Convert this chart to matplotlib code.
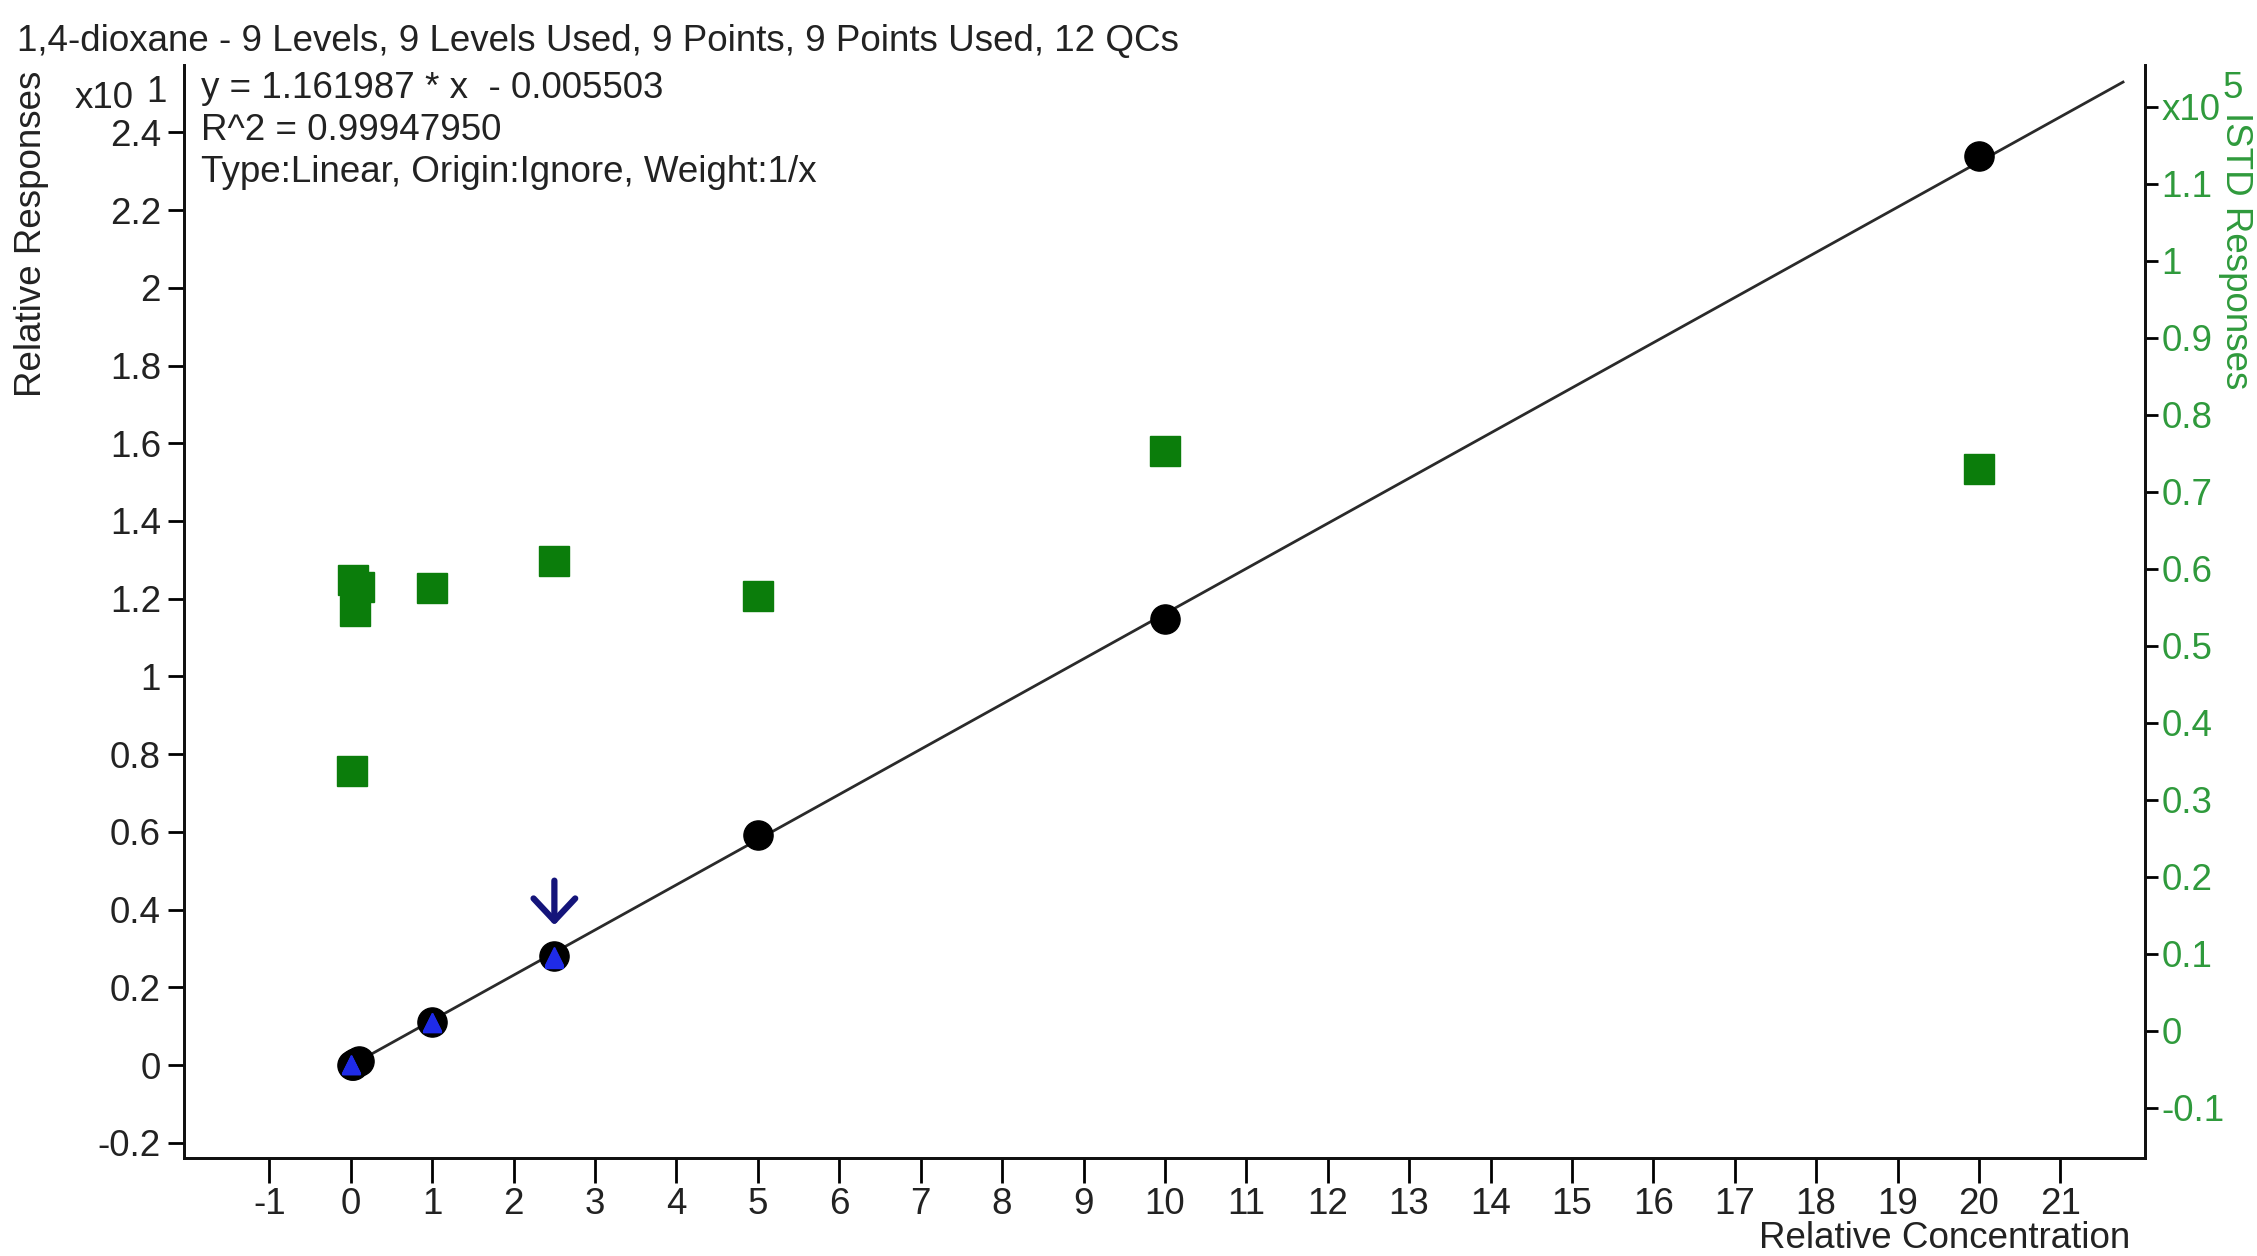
import matplotlib
matplotlib.use('Agg')
import matplotlib.pyplot as plt
from matplotlib.ticker import FixedLocator, FixedFormatter

plt.rcParams['font.family'] = ['Liberation Sans', 'DejaVu Sans']

# Data
std_conc = [0.01, 0.02, 0.05, 0.1, 1, 2.5, 5, 10, 20]
std_resp = [0.006, 0.018, 0.052, 0.112, 1.12, 2.80, 5.92, 11.47, 23.38]      # relative response
istd_resp = [0.337, 0.585, 0.545, 0.576, 0.575, 0.61, 0.565, 0.753, 0.73]   # x10^5

qc_conc = [0.0, 0.0, 0.0, 0.0, 1, 1, 1, 1, 2.5, 2.5, 2.5, 2.5]
qc_resp = [0.0, 0.01, 0.02, 0.005, 1.08, 1.10, 1.12, 1.09, 2.74, 2.78, 2.80, 2.76]

slope = 1.161987
intercept = -0.005503
fit_x = [0.01, 21.77]

flagged_conc = 2.5
flagged_arrow = (0.482, 0.353)  # tail, tip on the left axis (x10)

x_ticks = list(range(-1, 22))
left_ticks = [-0.2, 0, 0.2, 0.4, 0.6, 0.8, 1, 1.2, 1.4, 1.6, 1.8, 2, 2.2, 2.4]
right_ticks = [-0.1, 0, 0.1, 0.2, 0.3, 0.4, 0.5, 0.6, 0.7, 0.8, 0.9, 1, 1.1, 1.2]
right_labels = ['-0.1', '0', '0.1', '0.2', '0.3', '0.4', '0.5', '0.6', '0.7',
                '0.8', '0.9', '1', '1.1', 'x10']

title = '1,4-dioxane - 9 Levels, 9 Levels Used, 9 Points, 9 Points Used, 12 QCs'
eq_lines = ['y = 1.161987 * x  - 0.005503',
            'R^2 = 0.99947950',
            'Type:Linear, Origin:Ignore, Weight:1/x']

W, H = 2257, 1256
TXT = '#222222'
GREEN_TXT = '#2f9a3c'
GREEN = '#0b7d0b'
FS = 26.5

fig = plt.figure(figsize=(W / 100, H / 100), dpi=100)
ax = fig.add_axes([184 / W, 1 - 1158 / H, (2145 - 184) / W, (1158 - 65) / H])
ax2 = ax.twinx()

ax.set_xlim(-2.05, 22.04)
ax.set_ylim(-0.2386, 2.573)
ax2.set_ylim(-0.1655, 1.2545)

# regression line
fx = fit_x
fy = [(slope * v + intercept) / 10 for v in fx]
ax.plot(fx, fy, color='#2a2a2a', lw=2.0, zorder=2)

# ISTD responses
ax2.plot(std_conc, istd_resp, 's', color=GREEN, ms=22, mec=GREEN, zorder=3)

# standards and QCs
ax.plot(std_conc, [v / 10 for v in std_resp], 'o', color='black', ms=21, zorder=4)
ax.plot(qc_conc, [v / 10 for v in qc_resp], '^', color='#1f2be8', ms=13,
        mec='#1f2be8', zorder=5)

ax.annotate('', xy=(flagged_conc, flagged_arrow[1]),
            xytext=(flagged_conc, flagged_arrow[0]),
            arrowprops=dict(arrowstyle='->, head_length=0.8, head_width=0.75',
                            color='#14147a', lw=4.5, mutation_scale=20),
            zorder=6)

ax.set_zorder(ax2.get_zorder() + 1)
ax.patch.set_visible(False)

for a in (ax, ax2):
    a.spines['top'].set_visible(False)
    for s in ('left', 'right', 'bottom'):
        a.spines[s].set_linewidth(2)
        a.spines[s].set_color('#111111')

ax.xaxis.set_major_locator(FixedLocator(x_ticks))
ax.set_xticklabels([str(v) for v in x_ticks])
ax.yaxis.set_major_locator(FixedLocator(left_ticks))
ax.set_yticklabels(['%g' % v for v in left_ticks])
ax.tick_params(axis='x', direction='out', length=18, width=2, pad=3,
               labelsize=FS, labelcolor=TXT)
ax.tick_params(axis='y', direction='out', length=11.5, width=2, pad=5,
               labelsize=FS, labelcolor=TXT)

ax2.yaxis.set_major_locator(FixedLocator(right_ticks))
ax2.yaxis.set_major_formatter(FixedFormatter(right_labels))
ax2.tick_params(axis='y', direction='out', length=9, width=2, pad=3,
                labelsize=FS, labelcolor=GREEN_TXT)

# texts
fig.text(17 / W, 1 - 42 / H, title, fontsize=FS, color=TXT, ha='left', va='center')
for i, line in enumerate(eq_lines):
    fig.text(201 / W, 1 - (89 + 41.5 * i) / H, line, fontsize=FS, color=TXT,
             ha='left', va='center')
fig.text(75 / W, 1 - 98 / H, 'x10', fontsize=FS, color=TXT, ha='left', va='center')
fig.text(146 / W, 1 - 92 / H, '1', fontsize=FS, color=TXT, ha='left', va='center')
fig.text(32 / W, 1 - 234 / H, 'Relative Responses', fontsize=FS, color=TXT,
         rotation=90, ha='center', va='center')
fig.text(2130 / W, 1 - 1238 / H, 'Relative Concentration', fontsize=FS, color=TXT,
         ha='right', va='center')
fig.text(2223 / W, 1 - 88 / H, '5', fontsize=FS, color=GREEN_TXT, ha='left', va='center')
fig.text(2236 / W, 1 - 112 / H, 'ISTD Responses', fontsize=FS, color=GREEN_TXT,
         rotation=-90, ha='center', va='top')

fig.savefig('out.png', dpi=100, facecolor='white')
